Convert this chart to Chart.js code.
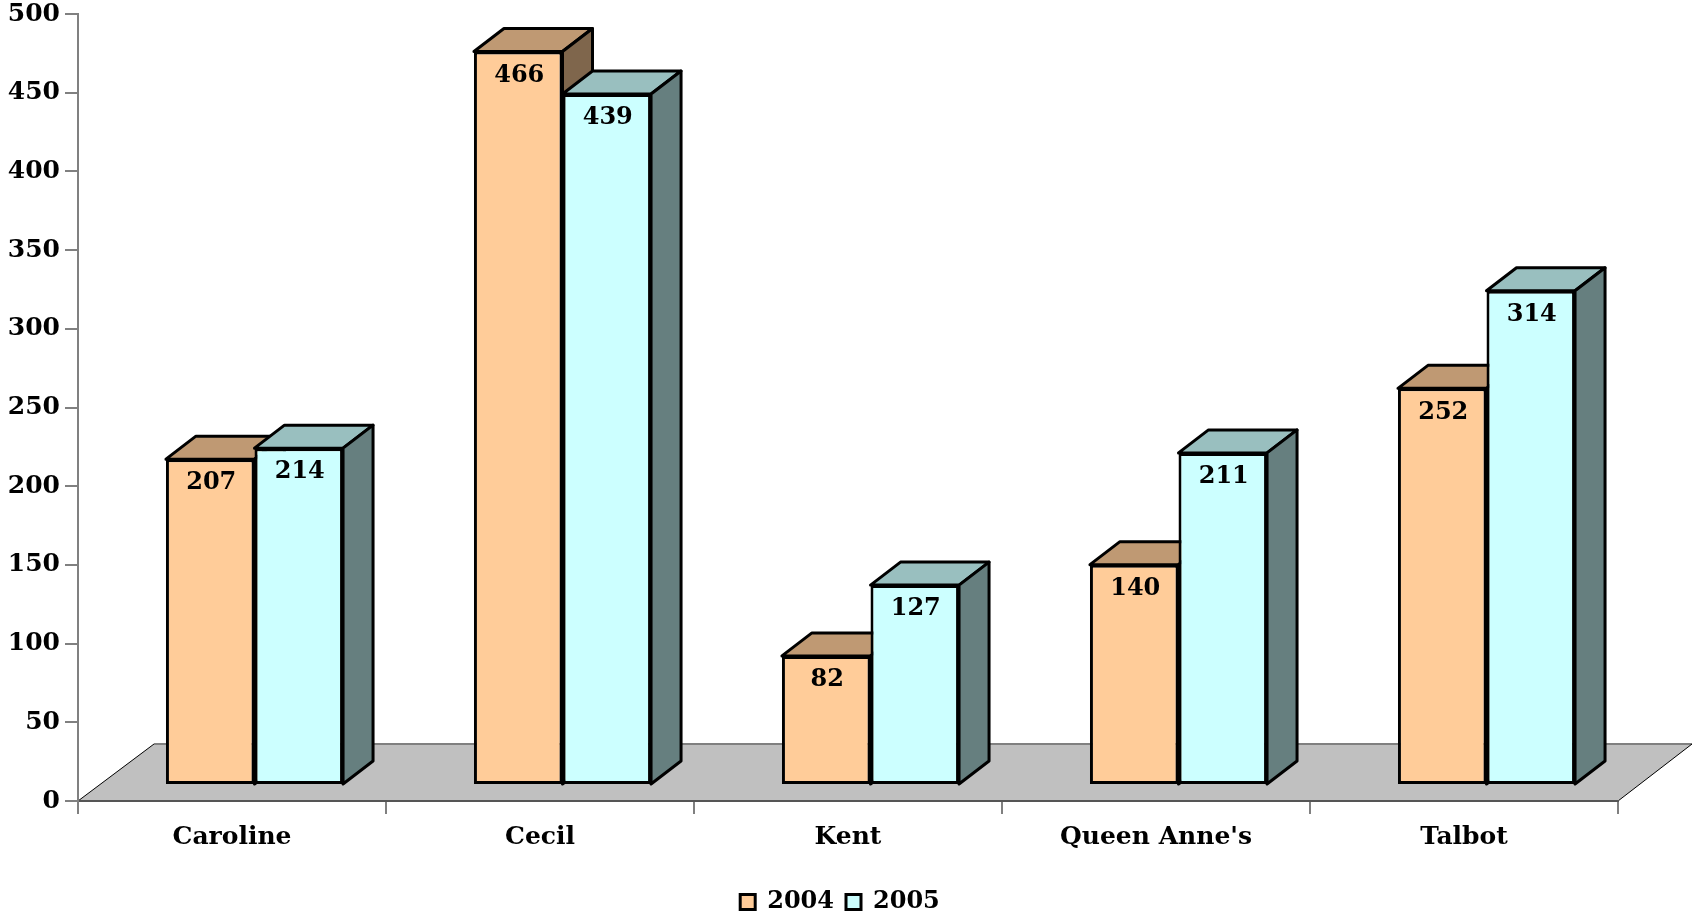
<!DOCTYPE html>
<html>
<head>
<meta charset="utf-8">
<title>Caroline, Cecil, Kent, Queen Anne's, Talbot</title>
<script src="https://cdn.jsdelivr.net/npm/chart.js@4"></script>
<style>
    html, body { margin: 0; padding: 0; background: #fff; }
    canvas { display: block; }
</style>
</head>
<body>
<canvas id="barChart" width="1692" height="915"></canvas>
<script>
var categories = ['Caroline', 'Cecil', 'Kent', "Queen Anne's", 'Talbot'];
var years = ['2004', '2005'];
var values2004 = [207, 466, 82, 140, 252];
var values2005 = [214, 439, 127, 211, 314];

var fontFamily = '"DejaVu Serif", serif';
var faceColors = ['#FFCC99', '#CCFFFF'];
var topColors = ['#BF9973', '#99BFBF'];
var sideColors = ['#7F664C', '#667F7F'];

// the bars sit part way back on the floor
var shiftX = 22.5;
var shiftY = -16;
var depthX = 30;
var depthY = -23;
var floorX = 76;
var floorY = -57;

function poly(ctx, pts, fill, stroke, width) {
    ctx.beginPath();
    ctx.moveTo(pts[0][0], pts[0][1]);
    for (var i = 1; i < pts.length; i++) ctx.lineTo(pts[i][0], pts[i][1]);
    ctx.closePath();
    ctx.fillStyle = fill;
    ctx.fill();
    if (stroke) {
        ctx.strokeStyle = stroke;
        ctx.lineWidth = width;
        ctx.lineJoin = 'round';
        ctx.stroke();
    }
}

var fake3d = {
    id: 'fake3d',
    beforeDraw: function (chart) {
        var a = chart.chartArea, ctx = chart.ctx;
        var backY = a.bottom + floorY;
        ctx.save();
        poly(ctx, [[a.left, a.bottom], [a.left + floorX, backY], [chart.width, backY], [a.right, a.bottom]], '#C0C0C0', null);
        ctx.strokeStyle = '#808080';
        ctx.lineWidth = 2;
        ctx.beginPath();
        ctx.moveTo(a.left + floorX, backY);
        ctx.lineTo(chart.width, backY);
        ctx.stroke();
        ctx.strokeStyle = '#000';
        ctx.lineWidth = 1;
        ctx.beginPath();
        ctx.moveTo(a.left, a.bottom);
        ctx.lineTo(a.left + floorX, backY);
        ctx.moveTo(a.right, a.bottom);
        ctx.lineTo(chart.width, backY);
        ctx.stroke();
        ctx.restore();
    },
    // 2004 has to go down first so 2005 overlaps it, Chart.js would paint them the other way round
    beforeDatasetsDraw: function (chart) {
        var ctx = chart.ctx;
        chart.data.datasets.forEach(function (ds, idx) {
            var meta = chart.getDatasetMeta(idx);
            ctx.save();
            ctx.translate(shiftX, shiftY);
            meta.data.forEach(function (bar) {
                var l = bar.x - bar.width / 2, r = bar.x + bar.width / 2;
                poly(ctx, [[l, bar.y], [l + depthX, bar.y + depthY], [r + depthX, bar.y + depthY], [r, bar.y]], topColors[idx], '#000', 3);
                poly(ctx, [[r, bar.y], [r + depthX, bar.y + depthY], [r + depthX, bar.base + depthY], [r, bar.base]], sideColors[idx], '#000', 3);
            });
            meta.controller.draw();
            ctx.restore();
        });
        ctx.save();
        ctx.font = 'bold 24px ' + fontFamily;
        ctx.fillStyle = '#000';
        ctx.textAlign = 'center';
        ctx.textBaseline = 'middle';
        chart.data.datasets.forEach(function (ds, i) {
            chart.getDatasetMeta(i).data.forEach(function (bar, j) {
                ctx.fillText(ds.data[j], bar.x + shiftX + 1, bar.y + shiftY + 24);
            });
        });
        ctx.restore();
        return false;
    }
};

new Chart(document.getElementById('barChart').getContext('2d'), {
    type: 'bar',
    data: {
        labels: categories,
        datasets: [
            { label: years[0], data: values2004, backgroundColor: faceColors[0], borderColor: '#000', borderWidth: 3, borderSkipped: false },
            { label: years[1], data: values2005, backgroundColor: faceColors[1], borderColor: '#000', borderWidth: 3, borderSkipped: false }
        ]
    },
    options: {
        responsive: false,
        animation: false,
        categoryPercentage: 0.575,
        barPercentage: 1,
        layout: { padding: { top: 0, right: 12, bottom: -9, left: 0 } },
        scales: {
            x: {
                afterFit: function (axis) { axis.height = 77; axis.paddingRight = 74; },
                grid: { drawOnChartArea: false, tickLength: 13, color: '#808080', lineWidth: 2 },
                border: { color: '#555', width: 2 },
                ticks: { color: '#000', padding: 8, maxRotation: 0, font: { family: fontFamily, size: 25, weight: 'bold' } }
            },
            y: {
                min: 0,
                max: 500,
                afterFit: function (axis) { axis.width = 78; axis.paddingTop = 14; },
                grid: { drawOnChartArea: false, tickLength: 13, color: '#808080', lineWidth: 2 },
                border: { color: '#808080', width: 2 },
                ticks: { stepSize: 50, color: '#000', padding: 5, font: { family: fontFamily, size: 25, weight: 'bold' } }
            }
        },
        plugins: {
            tooltip: { enabled: false },
            legend: {
                position: 'bottom',
                labels: { color: '#000', boxWidth: 15, boxHeight: 15, padding: 12, font: { family: fontFamily, size: 24, weight: 'bold' } }
            }
        }
    },
    plugins: [fake3d]
});
</script>
</body>
</html>
